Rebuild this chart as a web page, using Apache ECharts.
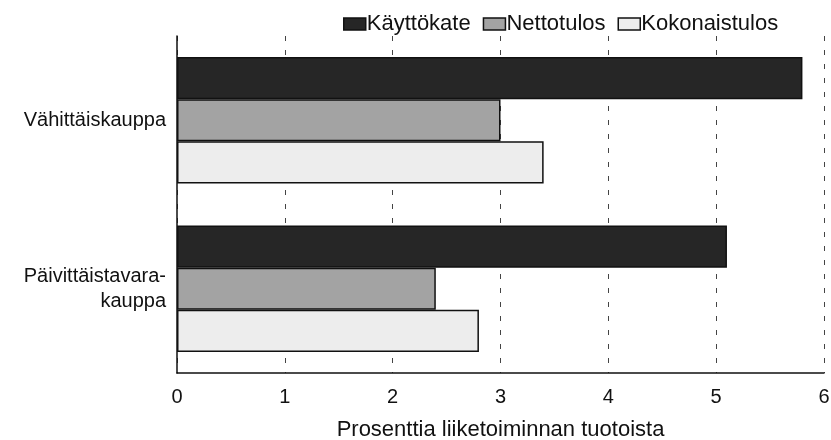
<!DOCTYPE html>
<html><head><meta charset="utf-8">
<script src="https://cdn.jsdelivr.net/npm/echarts@6/dist/echarts.min.js"></script>
<style>html,body{margin:0;padding:0;background:#fff}#c{width:831px;height:440px}</style>
</head><body><div id="c"></div>
<script>
const categories = ['Vähittäiskauppa', 'Päivittäistavara-\nkauppa'];
const seriesNames = ['Käyttökate', 'Nettotulos', 'Kokonaistulos'];
const kayttokate = [5.8, 5.1];
const nettotulos = [3.0, 2.4];
const kokonaistulos = [3.4, 2.8];
const xTicks = [0, 1, 2, 3, 4, 5, 6];

const colors = ['#262626', '#a3a3a3', '#ededed'];
const font = 'Liberation Sans, Arial, sans-serif';
const chart = echarts.init(document.getElementById('c'));
const mk = (name, data, i) => ({
  name, type: 'bar', data,
  barGap: '0%', barCategoryGap: '25%',
  itemStyle: { color: colors[i], borderColor: '#111', borderWidth: 1.5 },
  emphasis: { disabled: true }
});
chart.setOption({
  animation: false,
  legend: {
    top: 8, left: 338, itemGap: 12, itemWidth: 22, itemHeight: 12, icon: 'rect',
    textStyle: { fontFamily: font, fontSize: 22, color: '#111', padding: [0, 0, 0, -4] },
    itemStyle: { borderColor: '#111', borderWidth: 1.5 },
    data: seriesNames
  },
  grid: { left: 177, right: 7, top: 36, bottom: 67, outerBoundsMode: 'none', containLabel: false },
  xAxis: {
    type: 'value', min: xTicks[0], max: xTicks[xTicks.length - 1], interval: 1,
    axisLine: { show: true, lineStyle: { color: '#111', width: 1.5 } },
    axisTick: { show: false },
    axisLabel: { fontFamily: font, fontSize: 20, color: '#111', margin: 14 },
    splitLine: { show: true, lineStyle: { color: '#444', type: [5, 9], width: 1 } },
    name: 'Prosenttia liiketoiminnan tuotoista', nameLocation: 'middle', nameGap: 46,
    nameTextStyle: { fontFamily: font, fontSize: 22, color: '#111' }
  },
  yAxis: {
    type: 'category', data: categories, inverse: true,
    axisLine: { show: true, lineStyle: { color: '#111', width: 1.5 } },
    axisTick: { show: false },
    axisLabel: { fontFamily: font, fontSize: 20, color: '#111', margin: 11, lineHeight: 25, align: 'right' }
  },
  series: [mk(seriesNames[0], kayttokate, 0), mk(seriesNames[1], nettotulos, 1), mk(seriesNames[2], kokonaistulos, 2)]
});
</script></body></html>
